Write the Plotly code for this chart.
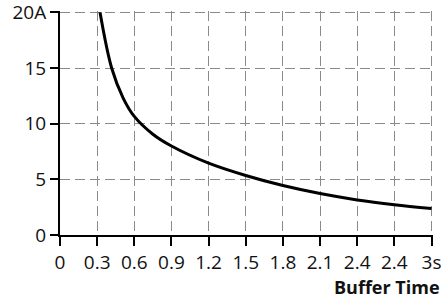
import plotly.graph_objects as go

# Data
buffer_time = [0.323, 0.417, 0.51, 0.6, 0.75, 0.9, 1.2, 1.5, 1.8, 2.1, 2.4, 2.7, 3.0]
current_a = [20.0, 15.0, 12.3, 10.65, 9.05, 7.99, 6.45, 5.34, 4.44, 3.72, 3.15, 2.72, 2.38]

x_tickvals = [0, 0.3, 0.6, 0.9, 1.2, 1.5, 1.8, 2.1, 2.4, 2.7, 3.0]
x_ticktext = ["0", "0.3", "0.6", "0.9", "1.2", "1.5", "1.8", "2.1", "2.4", "2.4", "3s"]
y_tickvals = [0, 5, 10, 15, 20]
y_ticktext = ["0", "5", "10", "15", "20A"]

fig = go.Figure()
fig.add_trace(go.Scatter(
    x=buffer_time, y=current_a, mode="lines",
    line=dict(color="black", width=3, shape="spline", smoothing=1.0),
    hoverinfo="skip", showlegend=False, cliponaxis=False,
))

font = dict(family="Open Sans", size=19, color="#111111")

fig.update_layout(
    width=443, height=300,
    margin=dict(l=60, r=10, t=11, b=65),
    paper_bgcolor="white", plot_bgcolor="white",
    xaxis=dict(
        range=[0, 3.012], tickvals=x_tickvals, ticktext=x_ticktext,
        showgrid=True, gridcolor="#8a8a8a", gridwidth=1.3, griddash="10px,5px",
        zeroline=False, showline=True, linecolor="black", linewidth=2,
        ticks="outside", ticklen=9, tickwidth=1.5, tickcolor="black",
        tickfont=font, fixedrange=True, automargin=False, ticklabeloverflow="allow",
    ),
    yaxis=dict(
        range=[0, 20.12], tickvals=y_tickvals, ticktext=y_ticktext,
        showgrid=True, gridcolor="#8a8a8a", gridwidth=1.3, griddash="10px,5px",
        zeroline=False, showline=True, linecolor="black", linewidth=2,
        ticks="outside", ticklen=8, tickwidth=1.5, tickcolor="black",
        tickfont=font, fixedrange=True, automargin=False, ticklabeloverflow="allow",
    ),
    annotations=[dict(
        text="<b>Buffer Time</b>", xref="paper", yref="paper",
        x=1, y=-0.233, xanchor="right", yanchor="middle", xshift=9,
        showarrow=False, font=dict(family="Open Sans", size=18, color="#111111"),
    )],
)

fig.write_html(
    "out.html",
    config={"displayModeBar": False},
    post_script="document.body.style.margin='0';document.body.style.padding='0';",
)
